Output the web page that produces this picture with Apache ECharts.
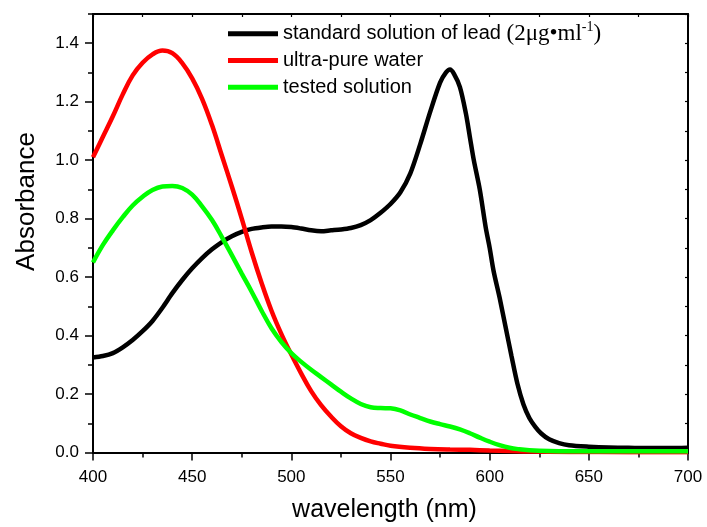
<!DOCTYPE html>
<html>
<head>
<meta charset="utf-8">
<script src="https://cdn.jsdelivr.net/npm/echarts@6/dist/echarts.min.js"></script>
<style>
html,body{margin:0;padding:0;background:#fff;}
#c{width:707px;height:527px;}
</style>
</head>
<body>
<div id="c"></div>
<script>
// ---- data ----
var seriesNames = ['standard solution of lead (2\u03bcg\u2022ml-1)', 'ultra-pure water', 'tested solution'];
var xTicks = [400, 450, 500, 550, 600, 650, 700];
var yTicks = ['0.0', '0.2', '0.4', '0.6', '0.8', '1.0', '1.2', '1.4'];
var xTitle = 'wavelength (nm)';
var yTitle = 'Absorbance';

var wlBlack = [400,405,410,415,420,425,430,435,440,445,450,455,460,465,470,475,480,485,490,495,500,505,510,515,520,525,530,535,540,545,550,555,560,565,570,575,578,580,582,585,588,590,592,595,598,600,602,605,608,611,614,617,620,623,626,630,635,640,650,660,670,680,690,700];
var absBlack = [0.325,0.33,0.34,0.36,0.385,0.415,0.45,0.495,0.545,0.59,0.63,0.665,0.695,0.72,0.74,0.755,0.765,0.77,0.773,0.773,0.771,0.766,0.76,0.757,0.76,0.763,0.768,0.778,0.795,0.82,0.85,0.89,0.955,1.055,1.165,1.265,1.3,1.31,1.295,1.25,1.16,1.08,1.0,0.9,0.77,0.7,0.62,0.53,0.43,0.33,0.235,0.165,0.118,0.088,0.065,0.045,0.032,0.025,0.02,0.017,0.016,0.015,0.015,0.016];

var wlRed = [400,405,410,415,420,425,430,435,440,445,450,455,460,465,470,475,480,485,490,495,500,505,510,515,520,525,530,535,540,545,550,560,570,580,590,600,610,620,640,670,700];
var absRed = [1.01,1.08,1.15,1.225,1.29,1.333,1.362,1.375,1.366,1.332,1.28,1.21,1.12,1.015,0.91,0.8,0.685,0.58,0.485,0.405,0.335,0.27,0.21,0.162,0.123,0.09,0.066,0.05,0.038,0.03,0.023,0.016,0.012,0.01,0.009,0.007,0.005,0.003,0.002,0.001,0.001];

var wlGreen = [400,405,410,415,420,425,430,435,440,445,450,455,460,465,470,475,480,485,490,495,500,505,510,515,520,525,530,535,540,545,550,555,560,565,570,575,580,585,590,595,600,605,610,615,620,630,640,650,670,700];
var absGreen = [0.65,0.71,0.76,0.805,0.845,0.875,0.898,0.91,0.912,0.905,0.882,0.842,0.795,0.737,0.675,0.612,0.55,0.485,0.425,0.378,0.34,0.31,0.283,0.258,0.233,0.208,0.185,0.166,0.155,0.152,0.151,0.144,0.13,0.118,0.106,0.097,0.089,0.079,0.066,0.051,0.037,0.025,0.016,0.011,0.008,0.005,0.004,0.004,0.004,0.004];

var colors = ['#000000', '#ff0000', '#00ff00'];

function pairs(xs, ys) {
  var out = [];
  for (var i = 0; i < xs.length; i++) out.push([xs[i], ys[i]]);
  return out;
}

var chart = echarts.init(document.getElementById('c'), null, {renderer: 'canvas'});
var font = 'Liberation Sans';
var axisColor = '#000';

var option = {
  backgroundColor: '#ffffff',
  animation: false,
  grid: {left: 93, right: 19, top: 14, bottom: 74.5, containLabel: false},
  legend: {
    orient: 'vertical',
    left: 223,
    top: 15.5,
    itemWidth: 50,
    itemHeight: 5,
    itemGap: 0,
    icon: 'rect',
    data: seriesNames,
    textStyle: {
      fontFamily: font, fontSize: 20, color: '#000', lineHeight: 26.7,
      rich: {
        t: {fontFamily: font, fontSize: 20, color: '#000', lineHeight: 26.7},
        s: {fontFamily: 'Liberation Serif', fontSize: 23, color: '#000', lineHeight: 26.7},
        sup: {fontFamily: 'Liberation Serif', fontSize: 14, color: '#000', lineHeight: 16, verticalAlign: 'top'}
      }
    },
    formatter: function (name) {
      if (name === seriesNames[0]) {
        return '{t|standard solution of lead }{s|(2\u03bcg\u2022ml}{sup|-1}{s|)}';
      }
      return '{t|' + name + '}';
    }
  },
  xAxis: [
    {
      type: 'value', position: 'bottom', min: 400, max: 700, interval: 50,
      axisLine: {show: true, onZero: false, lineStyle: {color: axisColor, width: 2}},
      axisTick: {show: true, inside: false, length: 8, lineStyle: {color: axisColor, width: 1.5}},
      minorTick: {show: true, splitNumber: 2, length: 5, lineStyle: {color: axisColor, width: 1.5}},
      splitLine: {show: false},
      axisLabel: {show: true, margin: 16, fontFamily: font, fontSize: 17, color: '#000',
        formatter: function (v) { return xTicks.indexOf(v) >= 0 ? String(v) : ''; }}
    },
    {
      type: 'value', position: 'top', min: 400, max: 700, interval: 25,
      axisLine: {show: true, onZero: false, lineStyle: {color: axisColor, width: 2}},
      axisTick: {show: true, inside: true, length: 3, lineStyle: {color: axisColor, width: 1.2}},
      splitLine: {show: false},
      axisLabel: {show: false}
    }
  ],
  yAxis: [
    {
      type: 'value', position: 'left', min: 0, max: 1.5, interval: 0.2,
      axisLine: {show: true, onZero: false, lineStyle: {color: axisColor, width: 2}},
      axisTick: {show: true, inside: false, length: 8, lineStyle: {color: axisColor, width: 1.5}},
      splitLine: {show: false},
      axisLabel: {show: true, margin: 14, fontFamily: font, fontSize: 17, color: '#000', showMaxLabel: false,
        formatter: function (v) { var s = v.toFixed(1); return yTicks.indexOf(s) >= 0 ? s : ''; }}
    },
    {
      type: 'value', position: 'left', min: 0, max: 1.5, interval: 0.1,
      axisLine: {show: false},
      axisTick: {show: true, inside: false, length: 5, lineStyle: {color: axisColor, width: 1.5}},
      splitLine: {show: false},
      axisLabel: {show: false}
    },
    {
      type: 'value', position: 'right', min: 0, max: 1.5, interval: 0.1,
      axisLine: {show: true, onZero: false, lineStyle: {color: axisColor, width: 2}},
      axisTick: {show: true, inside: true, length: 3, lineStyle: {color: axisColor, width: 1.2}},
      splitLine: {show: false},
      axisLabel: {show: false}
    }
  ],
  graphic: [
    {
      type: 'text', x: 27, y: 201.5, rotation: Math.PI / 2,
      style: {text: yTitle, fontFamily: font, fontSize: 26, fill: '#000',
        align: 'center', verticalAlign: 'middle', textAlign: 'center', textVerticalAlign: 'middle'}
    },
    {
      type: 'text', x: 384.5, y: 510.5,
      style: {text: xTitle, fontFamily: font, fontSize: 25, fill: '#000',
        align: 'center', verticalAlign: 'middle', textAlign: 'center', textVerticalAlign: 'middle'}
    }
  ],
  series: [
    {name: seriesNames[0], type: 'line', xAxisIndex: 0, yAxisIndex: 0, data: pairs(wlBlack, absBlack),
      showSymbol: false, smooth: 0.3, lineStyle: {color: colors[0], width: 4.5}, itemStyle: {color: colors[0]}},
    {name: seriesNames[1], type: 'line', xAxisIndex: 0, yAxisIndex: 0, data: pairs(wlRed, absRed),
      showSymbol: false, smooth: 0.4, lineStyle: {color: colors[1], width: 4.5}, itemStyle: {color: colors[1]}},
    {name: seriesNames[2], type: 'line', xAxisIndex: 0, yAxisIndex: 0, data: pairs(wlGreen, absGreen),
      showSymbol: false, smooth: 0.4, lineStyle: {color: colors[2], width: 4.5}, itemStyle: {color: colors[2]}}
  ]
};
chart.setOption(option);
</script>
</body>
</html>
